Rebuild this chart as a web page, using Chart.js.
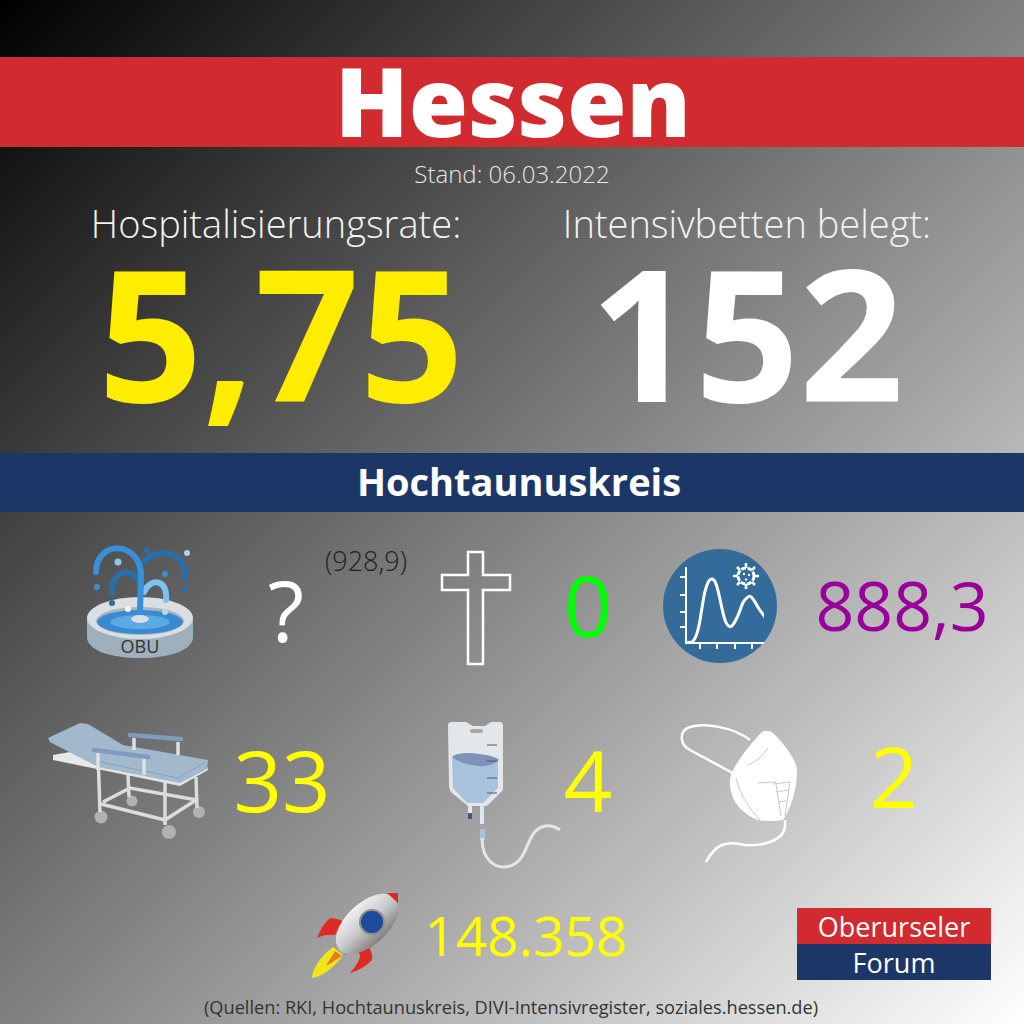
<!DOCTYPE html>
<html lang="de">
<head>
<meta charset="utf-8">
<title>Hessen</title>
<script src="https://cdn.jsdelivr.net/npm/chart.js"></script>
<style>
html, body { margin: 0; padding: 0; }
#page { position: relative; width: 1024px; height: 1024px; overflow: hidden;
  background: linear-gradient(135deg, #000 0%, #fff 100%); font-family: "Open Sans", sans-serif; }
.band { position: absolute; left: 0; width: 1024px; }
.t { position: absolute; white-space: nowrap; line-height: 1; transform: translateX(-50%); }
#art { position: absolute; left: 0; top: 0; }
#curveBox { position: absolute; left: 680px; top: 567px; width: 84px; height: 82px; }
#curveChart { display: block; width: 84px; height: 82px; }
</style>
</head>
<body>
<div id="page">
  <div class="band" style="top:57px;height:90px;background:#d12b30"></div>
  <div class="band" style="top:453px;height:59px;background:#1c3767"></div>
  <div style="position:absolute;left:797px;top:908px;width:194px;height:36px;background:#d12b30"></div>
  <div style="position:absolute;left:797px;top:944px;width:194px;height:36px;background:#1c3767"></div>

  <svg id="art" width="1024" height="1024" viewBox="0 0 1024 1024">
    <defs>
      <linearGradient id="silver" x1="0" y1="0" x2="0" y2="1">
        <stop offset="0" stop-color="#f0f0f0"/><stop offset="0.5" stop-color="#c9c9c9"/><stop offset="1" stop-color="#808080"/>
      </linearGradient>
    </defs>
    <!-- fountain -->
    <path d="M87 618 L87 637 C87 650 110 658 140 658 C170 658 193 650 193 637 L193 618 Z" fill="#9fb0bd"/>
    <ellipse cx="140" cy="618" rx="53" ry="21" fill="#d9dfe3"/>
    <ellipse cx="140" cy="621" rx="44" ry="14" fill="#a8b5bf"/>
    <ellipse cx="140" cy="622" rx="43" ry="12" fill="#3a8ad2"/>
    <ellipse cx="140" cy="622" rx="30" ry="7" fill="#5aaae6"/>
    <g fill="none" stroke-width="6" stroke-linecap="round">
      <path d="M112 593 C110 570 133 566 139 582" stroke="#2a6ea8"/>
      <path d="M143 563 C152 548 188 548 185 579" stroke="#2a6ea8"/>
      <path d="M144 592 C150 578 168 578 166 600" stroke="#7ec0f0"/>
      <path d="M96 572 C96 540 140 540 141 575 L140 612" stroke="#3a8fd9"/>
    </g>
    <ellipse cx="140" cy="619" rx="9" ry="4" fill="#d9dfe3"/>
    <circle cx="147" cy="550" r="3" fill="#2a6ea8"/><circle cx="187" cy="553" r="3" fill="#a9d4f0"/>
    <circle cx="118" cy="562" r="3.5" fill="#8cc6ee"/><circle cx="165" cy="574" r="3" fill="#3d8fd6"/>
    <circle cx="97" cy="587" r="3" fill="#3d8fd6"/><circle cx="184" cy="590" r="3" fill="#2a6ea8"/>
    <circle cx="112" cy="603" r="3" fill="#2a6ea8"/><circle cx="128" cy="609" r="3" fill="#f4f4f4"/>
    <circle cx="165" cy="612" r="3" fill="#b9d8ee"/>
    <!-- cross -->
    <path d="M468 552 H483 V575 H510 V590 H483 V664 H468 V590 H442 V575 H468 Z" fill="none" stroke="#fff" stroke-width="2.5"/>
    <!-- circle behind the curve -->
    <circle cx="720" cy="606" r="57" fill="#336b9b"/>
    <g transform="translate(746,576)" stroke="#fff" fill="none">
      <circle r="8" stroke-width="3" stroke-dasharray="5 1.5"/>
      <path d="M0 -8V-13M0 8V13M-8 0H-13M8 0H13M-6 -6L-9 -9M6 -6L9 -9M-6 6L-9 9M6 6L9 9" stroke-width="2.5"/>
      <circle cx="-2" cy="-2" r="1.2" fill="#fff" stroke="none"/><circle cx="3" cy="-1" r="1.2" fill="#fff" stroke="none"/><circle cx="0" cy="3.5" r="1.2" fill="#fff" stroke="none"/>
    </g>
    <!-- bed -->
    <g fill="#b2b2b2"><circle cx="132" cy="801" r="5.5"/><circle cx="199" cy="812" r="6"/><circle cx="101" cy="817" r="6.5"/><circle cx="169" cy="832" r="7"/></g>
    <g stroke="#dcdcdc" stroke-width="3.5" fill="none">
      <path d="M128 775 L129 797 M196 777 L197 808 M103 802 L130 788 L197 800 M165 820 L196 800"/>
      <path d="M98 753 L100 812 M165 782 L165 825 M101 804 L165 820"/>
    </g>
    <path d="M53 755 L70 752 L97 765 L97 769 L53 760 Z" fill="#e8e8e8"/>
    <path d="M97 769 L180 786 L208 770 L207 766 L180 781 L97 764 Z" fill="#e4e4e4"/>
    <path d="M48 738 L80 723 L88 724 L123 745 L208 760 L207 769 L180 783 L98 767 L50 742 Z" fill="#a2b9cd"/>
    <path d="M100 762 L178 778 L204 763" fill="none" stroke="#7f9bbd" stroke-width="0.8"/>
    <g stroke="#e0e0e0" stroke-width="3.5" fill="none"><path d="M134 738 V750 M178 742 V755 M144 758 V775 M98 752 V770"/></g>
    <path d="M130 735 L181 739 M94 750 L148 757" stroke="#7f9bbd" stroke-width="4.5" stroke-linecap="round"/>
    <!-- infusion bag -->
    <path d="M448 725 Q448 722 452 722 L466 722 L473 726 L485 726 L491 722 L500 722 Q503 722 503 726 L503 790 L487 806 L468 806 L452 793 Q449 790 449 785 Z" fill="#e4e7ea"/>
    <rect x="470" y="729" width="13" height="4" rx="2" fill="#a8a8a8"/>
    <path d="M452 757 L498 760 L498 788 L483 803 L467 803 L453 788 Z" fill="#a9c3de"/>
    <path d="M452 757 Q455 753 470 753 Q495 755 499 760 Q492 767 478 766 Q460 764 452 757 Z" fill="#7d93b8"/>
    <path d="M487 745 H497 M487 761 H497 M487 778 H497 M487 793 H497" stroke="#556" stroke-width="1"/>
    <path d="M470 806 V813" stroke="#e4e7ea" stroke-width="4"/>
    <path d="M470 813 V819" stroke="#3c5a80" stroke-width="4"/>
    <path d="M482 806 V824" stroke="#e4e7ea" stroke-width="4"/>
    <rect x="480" y="829" width="5" height="11" fill="#a9c3de"/>
    <path d="M482 838 C482 860 495 870 510 866 C530 860 525 830 545 826 Q553 825 560 830" fill="none" stroke="#e6e6e6" stroke-width="3"/>
    <!-- oxygen mask -->
    <path d="M762 732 Q768 729 773 733 C785 745 797 760 797 772 C797 790 790 810 783 820 Q770 822 758 820 C745 815 735 805 732 795 C729 785 729 778 733 770 C740 757 752 742 762 732 Z" fill="#fff"/>
    <path d="M750 740 C735 728 705 722 690 727 C678 731 680 745 690 750 L742 778" fill="none" stroke="#fff" stroke-width="2.5"/>
    <path d="M785 820 L785 827 C783 842 760 846 745 845 C725 840 715 845 706 862" fill="none" stroke="#fff" stroke-width="2.5"/>
    <path d="M748 765 Q760 760 768 748 M736 778 Q741 800 760 820 M758 783 L776 782 M773 784 L790 782 M776 792 L788 790 M779 802 L786 801 M776 784 L781 816 M790 782 L785 816" fill="none" stroke="#c8c8c8" stroke-width="1"/>
    <!-- rocket -->
    <path d="M333 947 L343 955 C334 968 322 977 312 978 C312 968 322 955 333 947 Z" fill="#f2e41c"/>
    <path d="M335 951 L342 956 L326 966 Z" fill="#e8791c"/>
    <path d="M335 945 L345 955 L350 951 L340 941 Z" fill="#8d8d8d"/>
    <path d="M343 921 Q335 918 330 918 Q322 925 317 938 Q325 934 335 935 Z" fill="#dd2a22"/>
    <path d="M368 946 Q373 953 372 960 Q362 970 350 973 Q360 962 360 955 L357 950 Z" fill="#dd2a22"/>
    <ellipse cx="367" cy="924" rx="38" ry="21" transform="rotate(-43 367 924)" fill="url(#silver)"/>
    <path d="M387 893 L398 893 L398 903 Z" fill="#dd2a22"/>
    <circle cx="372" cy="922" r="13" fill="#8d8d8d"/>
    <circle cx="372" cy="922" r="11" fill="#1d4c9a"/>
  </svg>

  <div id="curveBox"><canvas id="curveChart" width="84" height="82"></canvas></div>
  <div id="texts"></div>
</div>
<script>
// values
const stateName = ['Hessen'];
const standDate = ['Stand: 06.03.2022'];
const headlineLabels = ['Hospitalisierungsrate:', 'Intensivbetten belegt:'];
const headlineValues = ['5,75', '152'];
const districtName = ['Hochtaunuskreis'];
const districtValues = ['?', '(928,9)', '0', '888,3', '33', '4', '2', '148.358'];
const sourceLine = ['(Quellen: RKI, Hochtaunuskreis, DIVI-Intensivregister, soziales.hessen.de)'];
const logoWords = ['Oberurseler', 'Forum'];
const iconWord = ['OBU'];

// the curve in the round icon
const curveX = [0, 20, 35, 45, 55, 65, 75, 85, 95, 105, 115, 125, 135, 150, 165, 175, 185, 195, 210, 230];
const curveY = [0, 5, 40, 95, 150, 178, 185, 175, 140, 95, 60, 48, 52, 80, 118, 130, 135, 125, 100, 72];
const curveXTicks = [40, 90, 140, 190];
const curveYTicks = [45, 90, 140, 190];

function addText(text, cx, baseline, size, color, weight) {
    const el = document.createElement('div');
    el.className = 't';
    el.textContent = text;
    el.style.left = cx + 'px';
    el.style.top = (baseline - size * 0.888) + 'px';
    el.style.fontSize = size + 'px';
    el.style.color = color;
    el.style.fontWeight = weight || 400;
    document.getElementById('texts').appendChild(el);
}

addText(stateName[0], 513, 137, 96, '#fff', 800);
addText(standDate[0], 512, 183, 24, '#e6e6e6', 300);
addText(headlineLabels[0], 276, 238, 38, '#f2f2f2', 300);
addText(headlineLabels[1], 747, 238, 38, '#f2f2f2', 300);
addText(headlineValues[0], 281, 403, 183, '#ffed00', 700);
addText(headlineValues[1], 747, 403, 183, '#fff', 700);
addText(districtName[0], 519, 496, 38, '#fff', 700);

addText(districtValues[0], 286, 643, 84, '#fff');
addText(districtValues[1], 366, 571, 27, '#222', 300);
addText(districtValues[2], 588, 637, 85, '#00ff00');
addText(districtValues[3], 902, 631, 68, '#990099');
addText(districtValues[4], 282, 812, 85, '#ffff00');
addText(districtValues[5], 588, 812, 85, '#ffff00');
addText(districtValues[6], 894, 808, 85, '#ffff00');
addText(districtValues[7], 526, 956, 55, '#ffff00');

addText(iconWord[0], 140, 653, 18, '#333');
addText(logoWords[0], 894, 937, 27, '#fff', 500);
addText(logoWords[1], 894, 973, 27, '#fff', 500);
addText(sourceLine[0], 511, 1014, 18.2, '#333');

new Chart(document.getElementById('curveChart'), {
    type: 'line',
    data: {
        datasets: [{
            data: curveX.map((x, i) => ({ x: x, y: curveY[i] })),
            borderColor: '#fff',
            borderWidth: 3,
            pointRadius: 0,
            tension: 0.4
        }]
    },
    options: {
        responsive: false,
        animation: false,
        plugins: { legend: { display: false }, tooltip: { enabled: false } },
        layout: { padding: 0 },
        scales: {
            x: {
                type: 'linear', min: 0, max: 225,
                afterBuildTicks: axis => { axis.ticks = curveXTicks.map(v => ({ value: v })); },
                ticks: { display: false },
                grid: { drawOnChartArea: false, color: '#fff', lineWidth: 2, tickLength: 6 },
                border: { color: '#fff', width: 2 }
            },
            y: {
                min: 0, max: 220,
                afterBuildTicks: axis => { axis.ticks = curveYTicks.map(v => ({ value: v })); },
                ticks: { display: false },
                grid: { drawOnChartArea: false, color: '#fff', lineWidth: 2, tickLength: 6 },
                border: { color: '#fff', width: 2 }
            }
        }
    }
});
</script>
</body>
</html>
